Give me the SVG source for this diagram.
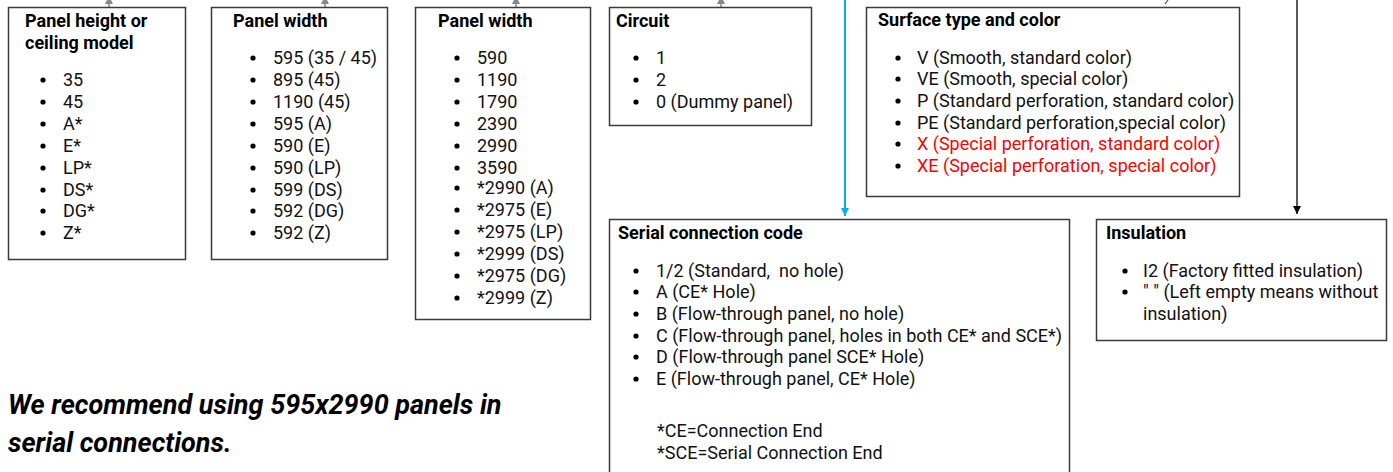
<svg xmlns="http://www.w3.org/2000/svg" width="1393" height="472" viewBox="0 0 1393 472">
<defs>
<style>
.box{fill:#fff;stroke:#3a3a3a;stroke-width:1.5}
.t{font-family:Roboto,"Liberation Sans",sans-serif;font-size:18px;font-weight:bold;fill:#000}
.i{font-family:Roboto,"Liberation Sans",sans-serif;font-size:18px;fill:#111}
.red{fill:#ff0000}
.b{fill:#000}
.note{font-family:Roboto,"Liberation Sans",sans-serif;font-size:27px;font-weight:bold;font-style:italic;fill:#000}
</style>
<marker id="ah" viewBox="0 0 10 10" refX="10" refY="5" markerWidth="8" markerHeight="8" markerUnits="userSpaceOnUse" orient="auto"><path d="M0,0 L10,5 L0,10 z" fill="#000"/></marker>
<marker id="ahb" viewBox="0 0 10 10" refX="10" refY="5" markerWidth="8" markerHeight="8" markerUnits="userSpaceOnUse" orient="auto"><path d="M0,0 L10,5 L0,10 z" fill="#00b0f0"/></marker>
</defs>
<g id="connectors">
<path d="M109,7 V4" stroke="#888" stroke-width="1.5"/>
<path d="M105,4 L113,4 L109,-4 z" fill="#888"/>
<path d="M325,7 V4" stroke="#888" stroke-width="1.5"/>
<path d="M321,4 L329,4 L325,-4 z" fill="#888"/>
<path d="M516,7 V4" stroke="#888" stroke-width="1.5"/>
<path d="M512,4 L520,4 L516,-4 z" fill="#888"/>
<path d="M721,7 V4" stroke="#888" stroke-width="1.5"/>
<path d="M717,4 L725,4 L721,-4 z" fill="#888"/>
<path d="M1168,0 L1165,4" stroke="#555" stroke-width="1.2"/>
<path d="M845,0 V216" stroke="#00b0f0" stroke-width="2" marker-end="url(#ahb)"/>
<path d="M1297,0 V214" stroke="#000" stroke-width="1.3" marker-end="url(#ah)"/>
</g>
<g id="panel-height">
<rect class="box" x="8.5" y="7.5" width="177" height="252"/>
<text class="t" x="25" y="27">Panel height or</text>
<text class="t" x="25" y="49">ceiling model</text>
<g class="b"><circle cx="43" cy="80" r="2.6"/><circle cx="43" cy="102" r="2.6"/><circle cx="43" cy="124" r="2.6"/><circle cx="43" cy="146" r="2.6"/><circle cx="43" cy="168" r="2.6"/><circle cx="43" cy="190" r="2.6"/><circle cx="43" cy="211" r="2.6"/><circle cx="43" cy="233" r="2.6"/></g>
<text class="i" x="63" y="86">35</text>
<text class="i" x="63" y="108">45</text>
<text class="i" x="63" y="130">A*</text>
<text class="i" x="63" y="152">E*</text>
<text class="i" x="63" y="174">LP*</text>
<text class="i" x="63" y="196">DS*</text>
<text class="i" x="63" y="217">DG*</text>
<text class="i" x="63" y="239">Z*</text>
</g>
<g id="panel-width-1">
<rect class="box" x="211.5" y="7.5" width="176" height="252"/>
<text class="t" x="233" y="27">Panel width</text>
<g class="b"><circle cx="253" cy="58" r="2.6"/><circle cx="253" cy="80" r="2.6"/><circle cx="253" cy="102" r="2.6"/><circle cx="253" cy="124" r="2.6"/><circle cx="253" cy="146" r="2.6"/><circle cx="253" cy="168" r="2.6"/><circle cx="253" cy="190" r="2.6"/><circle cx="253" cy="211" r="2.6"/><circle cx="253" cy="233" r="2.6"/></g>
<text class="i" x="273" y="64">595 (35 / 45)</text>
<text class="i" x="273" y="86">895 (45)</text>
<text class="i" x="273" y="108">1190 (45)</text>
<text class="i" x="273" y="130">595 (A)</text>
<text class="i" x="273" y="152">590 (E)</text>
<text class="i" x="273" y="174">590 (LP)</text>
<text class="i" x="273" y="196">599 (DS)</text>
<text class="i" x="273" y="217">592 (DG)</text>
<text class="i" x="273" y="239">592 (Z)</text>
</g>
<g id="panel-width-2">
<rect class="box" x="415.5" y="7.5" width="175" height="312"/>
<text class="t" x="438" y="27">Panel width</text>
<g class="b"><circle cx="457" cy="58" r="2.6"/><circle cx="457" cy="80" r="2.6"/><circle cx="457" cy="102" r="2.6"/><circle cx="457" cy="124" r="2.6"/><circle cx="457" cy="146" r="2.6"/><circle cx="457" cy="168" r="2.6"/><circle cx="457" cy="188" r="2.6"/><circle cx="457" cy="210" r="2.6"/><circle cx="457" cy="232" r="2.6"/><circle cx="457" cy="254" r="2.6"/><circle cx="457" cy="276" r="2.6"/><circle cx="457" cy="298" r="2.6"/></g>
<text class="i" x="477" y="64">590</text>
<text class="i" x="477" y="86">1190</text>
<text class="i" x="477" y="108">1790</text>
<text class="i" x="477" y="130">2390</text>
<text class="i" x="477" y="152">2990</text>
<text class="i" x="477" y="174">3590</text>
<text class="i" x="477" y="194">*2990 (A)</text>
<text class="i" x="477" y="216">*2975 (E)</text>
<text class="i" x="477" y="238">*2975 (LP)</text>
<text class="i" x="477" y="260">*2999 (DS)</text>
<text class="i" x="477" y="282">*2975 (DG)</text>
<text class="i" x="477" y="304">*2999 (Z)</text>
</g>
<g id="circuit">
<rect class="box" x="609.5" y="7.5" width="202" height="118"/>
<text class="t" x="616" y="27">Circuit</text>
<g class="b"><circle cx="636" cy="58" r="2.6"/><circle cx="636" cy="80" r="2.6"/><circle cx="636" cy="102" r="2.6"/></g>
<text class="i" x="656" y="64">1</text>
<text class="i" x="656" y="86">2</text>
<text class="i" x="656" y="108">0 (Dummy panel)</text>
</g>
<g id="surface">
<rect class="box" x="866.5" y="7.5" width="373" height="189"/>
<text class="t" x="878" y="26">Surface type and color</text>
<g class="b"><circle cx="898" cy="58" r="2.6"/><circle cx="898" cy="79" r="2.6"/><circle cx="898" cy="101" r="2.6"/><circle cx="898" cy="123" r="2.6"/><circle cx="898" cy="144" r="2.6"/><circle cx="898" cy="166" r="2.6"/></g>
<text class="i" x="917" y="64">V (Smooth, standard color)</text>
<text class="i" x="917" y="85">VE (Smooth, special color)</text>
<text class="i" x="917" y="107">P (Standard perforation, standard color)</text>
<text class="i" x="917" y="129">PE (Standard perforation,special color)</text>
<text class="i red" x="917" y="150">X (Special perforation, standard color)</text>
<text class="i red" x="917" y="172">XE (Special perforation, special color)</text>
</g>
<g id="serial">
<rect class="box" x="609.5" y="219.5" width="460" height="260"/>
<text class="t" x="618" y="239">Serial connection code</text>
<g class="b"><circle cx="636" cy="271" r="2.6"/><circle cx="636" cy="292" r="2.6"/><circle cx="636" cy="314" r="2.6"/><circle cx="636" cy="336" r="2.6"/><circle cx="636" cy="357" r="2.6"/><circle cx="636" cy="379" r="2.6"/></g>
<text class="i" x="656" y="277" xml:space="preserve">1/2 (Standard,  no hole)</text>
<text class="i" x="656" y="298">A (CE* Hole)</text>
<text class="i" x="656" y="320">B (Flow-through panel, no hole)</text>
<text class="i" x="656" y="342">C (Flow-through panel, holes in both CE* and SCE*)</text>
<text class="i" x="656" y="363">D (Flow-through panel SCE* Hole)</text>
<text class="i" x="656" y="385">E (Flow-through panel, CE* Hole)</text>
<text class="i" x="657" y="437">*CE=Connection End</text>
<text class="i" x="657" y="459">*SCE=Serial Connection End</text>
</g>
<g id="insulation">
<rect class="box" x="1096.5" y="219.5" width="290" height="121"/>
<text class="t" x="1106" y="239">Insulation</text>
<g class="b"><circle cx="1125" cy="271" r="2.6"/><circle cx="1125" cy="292" r="2.6"/></g>
<text class="i" x="1143" y="277">I2 (Factory fitted insulation)</text>
<text class="i" x="1143" y="298">" " (Left empty means without</text>
<text class="i" x="1143" y="320">insulation)</text>
</g>
<g id="recommendation">
<text class="note" x="8" y="414">We recommend using 595x2990 panels in</text>
<text class="note" x="8" y="452">serial connections.</text>
</g>
</svg>
